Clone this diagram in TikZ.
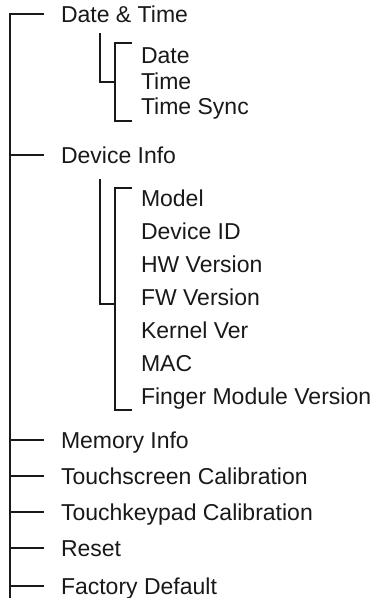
\documentclass[tikz,border=0pt]{standalone}
\usepackage{fontspec}
\setmainfont{Liberation Sans}
\begin{document}
\begin{tikzpicture}[x=1pt,y=-1pt,line width=2pt,
  lbl/.style={anchor=base west,inner sep=0pt,text=black!90,font=\fontsize{23}{27}\selectfont},
  conn/.style={draw=black!90}]
\useasboundingbox (0,0) rectangle (374,598);
% main items
\node[lbl] (dt) at (60,22.2) {Date \& Time};
\node[lbl] (di) at (60,163.2) {Device Info};
\node[lbl] (mi) at (60,448.5) {Memory Info};
\node[lbl] (ts) at (60,484.5) {Touchscreen Calibration};
\node[lbl] (tk) at (60,520.5) {Touchkeypad Calibration};
\node[lbl] (rs) at (60,556.5) {Reset};
\node[lbl] (fd) at (60,594) {Factory Default};
% sub items date/time
\node[lbl] (d1) at (140,63.3) {Date};
\node[lbl] (d2) at (140,89) {Time};
\node[lbl] (d3) at (140,114.7) {Time Sync};
% sub items device
\node[lbl] (m1) at (140,206.5) {Model};
\node[lbl] (m2) at (140,239.5) {Device ID};
\node[lbl] (m3) at (140,272.5) {HW Version};
\node[lbl] (m4) at (140,305.5) {FW Version};
\node[lbl] (m5) at (140,338.5) {Kernel Ver};
\node[lbl] (m6) at (140,371.5) {MAC};
\node[lbl] (m7) at (140,404.5) {Finger Module Version};
% trunk coordinates
\coordinate (tdt) at (9.5,13.7);
\coordinate (tdi) at (9.5,154.7);
\coordinate (tmi) at (9.5,440);
\coordinate (tts) at (9.5,476);
\coordinate (ttk) at (9.5,512);
\coordinate (trs) at (9.5,548);
\coordinate (tfd) at (9.5,585.5);
\coordinate (tbot) at (9.5,598);
\coordinate (edt) at (44,13.7);
\coordinate (edi) at (44,154.7);
\coordinate (emi) at (44,440);
\coordinate (ets) at (44,476);
\coordinate (etk) at (44,512);
\coordinate (ers) at (44,548);
\coordinate (efd) at (44,585.5);
\draw[conn] (edt) -- (tdt) -- (tbot);
\foreach \a/\b in {tdi/edi,tmi/emi,tts/ets,ttk/etk,trs/ers,tfd/efd}
  \draw[conn] (\a) -- (\b);
% date/time sub bracket
\coordinate (s1a) at (100,33);
\coordinate (s1b) at (100,82.3);
\coordinate (s1c) at (115,82.3);
\coordinate (b1t) at (115,43);
\coordinate (b1b) at (115,121);
\coordinate (b1tt) at (132,43);
\coordinate (b1bt) at (132,121);
\draw[conn] (s1a) -- (s1b) -- (s1c);
\draw[conn] (b1tt) -- (b1t) -- (b1b) -- (b1bt);
% device sub bracket
\coordinate (s2a) at (100,179);
\coordinate (s2b) at (100,304);
\coordinate (s2c) at (115,304);
\coordinate (b2t) at (115,188);
\coordinate (b2b) at (115,410);
\coordinate (b2tt) at (132,188);
\coordinate (b2bt) at (132,410);
\draw[conn] (s2a) -- (s2b) -- (s2c);
\draw[conn] (b2tt) -- (b2t) -- (b2b) -- (b2bt);
\end{tikzpicture}
\end{document}
